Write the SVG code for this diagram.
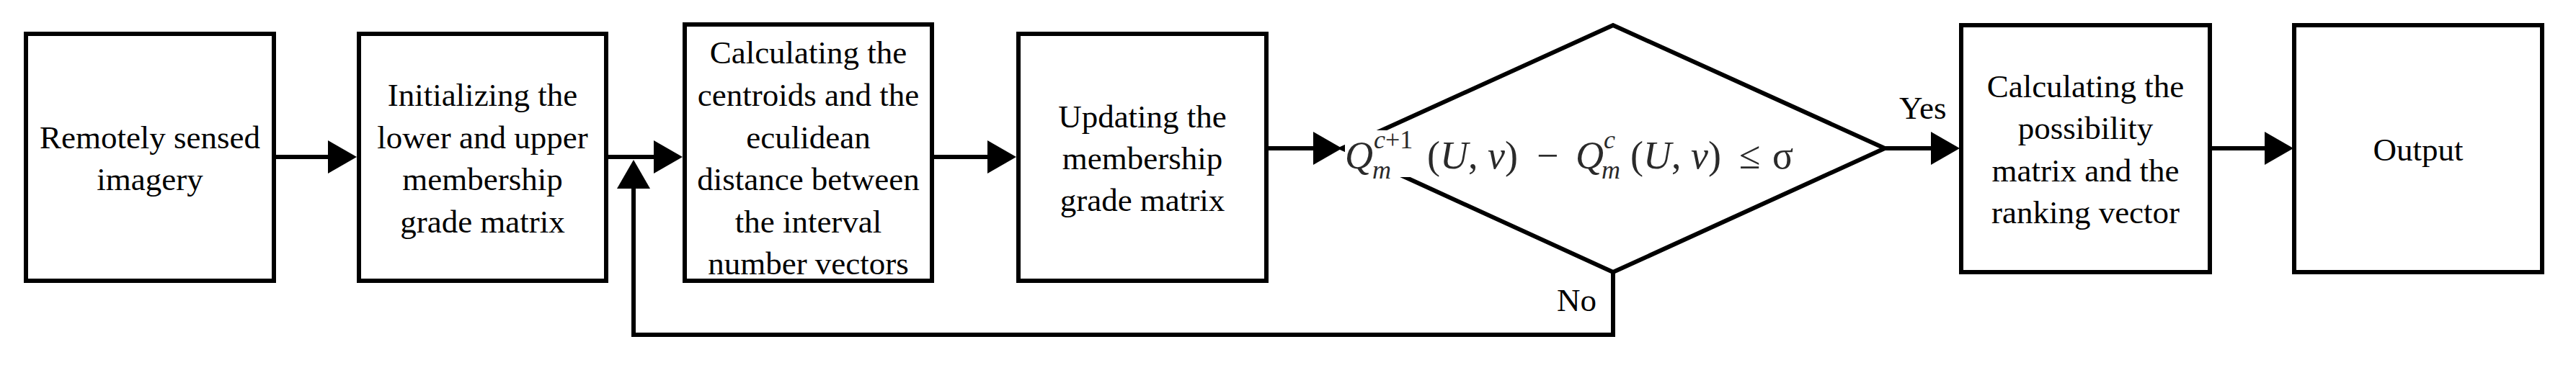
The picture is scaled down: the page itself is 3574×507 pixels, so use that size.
<svg xmlns="http://www.w3.org/2000/svg" width="3574" height="507" viewBox="0 0 3574 507">
<style>
.box{fill:#fff;stroke:#000;stroke-width:6}
.lbl{font-family:"Liberation Serif","Times New Roman",serif;font-size:45px;fill:#000;text-anchor:middle}
.side{font-family:"Liberation Serif","Times New Roman",serif;font-size:45px;fill:#000}
.conn{fill:none;stroke:#000;stroke-width:6;marker-end:url(#ah)}
.math{font-family:"Liberation Serif","DejaVu Serif",serif;fill:#2a2a2a}
</style>
<defs>
<marker id="ah" markerUnits="userSpaceOnUse" markerWidth="40" markerHeight="46" refX="0" refY="23" orient="auto">
<path d="M0,0 L40,23 L0,46 z" fill="#000"/>
</marker>
</defs>
<rect width="3574" height="507" fill="#fff"/>
<g id="n1">
<rect class="box" x="36" y="47" width="344" height="343"/>
<text class="lbl" x="208" y="206">Remotely sensed</text>
<text class="lbl" x="208" y="264">imagery</text>
</g>
<g id="n2">
<rect class="box" x="498" y="47" width="343" height="343"/>
<text class="lbl" x="669.5" y="147">Initializing the</text>
<text class="lbl" x="669.5" y="206">lower and upper</text>
<text class="lbl" x="669.5" y="264">membership</text>
<text class="lbl" x="669.5" y="323">grade matrix</text>
</g>
<g id="n3">
<rect class="box" x="950" y="34" width="343" height="356"/>
<text class="lbl" x="1121.5" y="88">Calculating the</text>
<text class="lbl" x="1121.5" y="147">centroids and the</text>
<text class="lbl" x="1121.5" y="206">eculidean</text>
<text class="lbl" x="1121.5" y="264">distance between</text>
<text class="lbl" x="1121.5" y="323">the interval</text>
<text class="lbl" x="1121.5" y="381">number vectors</text>
</g>
<g id="n4">
<rect class="box" x="1413" y="47" width="344" height="343"/>
<text class="lbl" x="1585" y="177">Updating the</text>
<text class="lbl" x="1585" y="235">membership</text>
<text class="lbl" x="1585" y="293">grade matrix</text>
</g>
<g id="n5">
<polygon class="box" points="1862,206 2238,35 2615,206 2238,378"/>
<rect x="1866" y="181" width="630" height="65" fill="#fff"/>
<text class="math" font-size="54">
<tspan x="1866" y="234" font-style="italic">Q</tspan>
<tspan x="1906" y="206" font-size="36"><tspan font-style="italic">c</tspan>+1</tspan>
<tspan x="1904" y="248" font-size="36" font-style="italic">m</tspan>
<tspan x="1980" y="234">(<tspan font-style="italic">U</tspan>, <tspan font-style="italic">v</tspan>)</tspan>
<tspan x="2132" y="234">−</tspan>
<tspan x="2186" y="234" font-style="italic">Q</tspan>
<tspan x="2225" y="206" font-size="36" font-style="italic">c</tspan>
<tspan x="2222" y="248" font-size="36" font-style="italic">m</tspan>
<tspan x="2262" y="234">(<tspan font-style="italic">U</tspan>, <tspan font-style="italic">v</tspan>)</tspan>
<tspan x="2413" y="234">≤</tspan>
<tspan x="2459" y="234">σ</tspan>
</text>
</g>
<g id="n6">
<rect class="box" x="2721" y="35" width="345" height="343"/>
<text class="lbl" x="2893.5" y="135">Calculating the</text>
<text class="lbl" x="2893.5" y="193">possibility</text>
<text class="lbl" x="2893.5" y="252">matrix and the</text>
<text class="lbl" x="2893.5" y="310">ranking vector</text>
</g>
<g id="n7">
<rect class="box" x="3183" y="35" width="344" height="343"/>
<text class="lbl" x="3355" y="223">Output</text>
</g>
<g id="connectors">
<path class="conn" d="M380,218 H455"/>
<path class="conn" d="M841,218 H907"/>
<path class="conn" d="M1293,218 H1370"/>
<path class="conn" d="M1757,206 H1822"/>
<path class="conn" d="M2615,206 H2679"/>
<path class="conn" d="M3066,206 H3142"/>
<path class="conn" d="M2238,378 V465 H879 V262"/>
<text class="side" x="2635" y="165">Yes</text>
<text class="side" x="2160" y="432">No</text>
</g>
</svg>
